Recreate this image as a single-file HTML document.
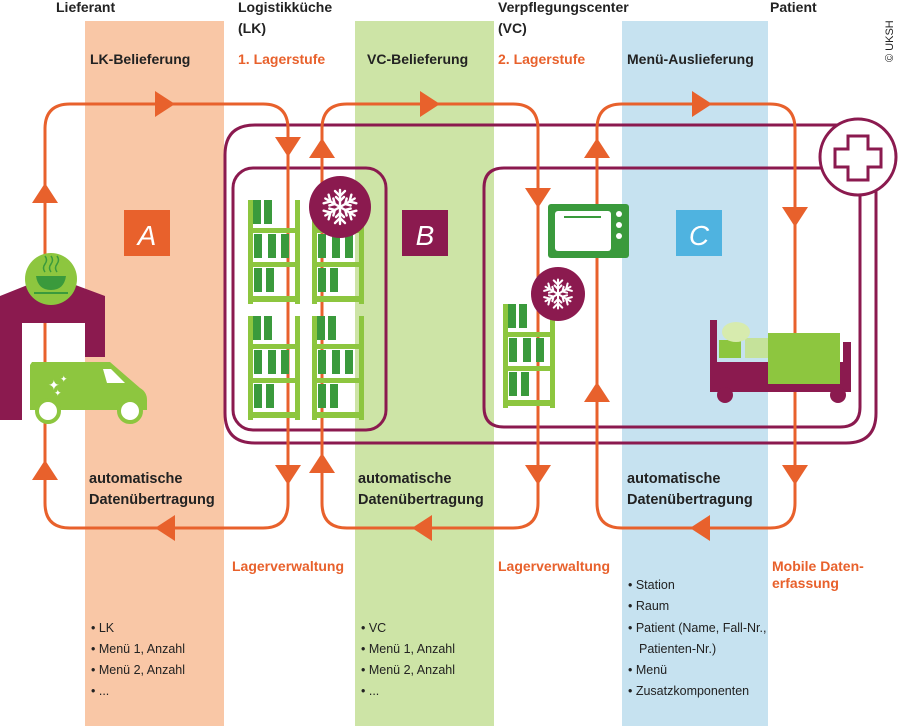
<!DOCTYPE html>
<html><head><meta charset="utf-8"><style>
html,body{margin:0;padding:0;background:#fff}
svg{display:block}
text{font-family:"Liberation Sans Narrow","Liberation Sans",sans-serif}
</style></head><body>
<svg width="900" height="726" viewBox="0 0 900 726" xmlns="http://www.w3.org/2000/svg">
<defs>
<g id="flake" stroke="#fff" stroke-width="2.4" fill="none" stroke-linecap="round">
<line x1="0" y1="-17" x2="0" y2="17"/><line x1="-14.7" y1="-8.5" x2="14.7" y2="8.5"/><line x1="-14.7" y1="8.5" x2="14.7" y2="-8.5"/>
<g id="br"><polyline points="-5,-16 0,-11 5,-16"/><polyline points="-4,-10 0,-6 4,-10"/></g>
<use href="#br" transform="rotate(60)"/><use href="#br" transform="rotate(120)"/><use href="#br" transform="rotate(180)"/><use href="#br" transform="rotate(240)"/><use href="#br" transform="rotate(300)"/>
</g>
<g id="shelf">
<rect x="0" y="0" width="5" height="104" fill="#8dc63f"/><rect x="47" y="0" width="5" height="104" fill="#8dc63f"/>
<rect x="0" y="28" width="52" height="5" fill="#8dc63f"/><rect x="0" y="62" width="52" height="5" fill="#8dc63f"/><rect x="0" y="96" width="52" height="6" fill="#8dc63f"/>
<rect x="5" y="0" width="8" height="24" fill="#3a9a3c"/><rect x="16" y="0" width="8" height="24" fill="#3a9a3c"/>
<rect x="6" y="34" width="8" height="24" fill="#3a9a3c"/><rect x="20" y="34" width="8" height="24" fill="#3a9a3c"/><rect x="33" y="34" width="8" height="24" fill="#3a9a3c"/>
<rect x="6" y="68" width="8" height="24" fill="#3a9a3c"/><rect x="18" y="68" width="8" height="24" fill="#3a9a3c"/>
</g>
<polygon id="ar" points="-13,-10 13,-10 0,10" fill="#e8612c"/>
</defs>
<!-- bands -->
<rect x="85" y="21" width="139" height="705" fill="#f9c7a6"/>
<rect x="355" y="21" width="139" height="705" fill="#cde4a6"/>
<rect x="622" y="21" width="146" height="705" fill="#c6e2f0"/>

<!-- purple loops -->
<g fill="none" stroke="#8b1a4f" stroke-width="3">
<path d="M858,125 H255 Q225,125 225,155 V413 Q225,443 255,443 H846 Q876,443 876,413 V180"/>
<rect x="233" y="168" width="153" height="262" rx="20"/>
<path d="M825,168 H504 Q484,168 484,188 V407 Q484,427 504,427 H840 Q860,427 860,407 V190"/>
<circle cx="858" cy="157" r="38" fill="#fff"/>
<path d="M848,136 h20 v13 h13 v18 h-13 v13 h-20 v-13 h-13 v-18 h13 z" stroke-width="3"/>
</g>

<!-- orange loops -->
<g fill="none" stroke="#e8612c" stroke-width="3">
<path d="M288,129 Q288,104 263,104 H70 Q45,104 45,129 V503 Q45,528 70,528 H263 Q288,528 288,503 Z"/>
<path d="M322,503 V129 Q322,104 347,104 H513 Q538,104 538,129 V503 Q538,528 513,528 H347 Q322,528 322,503"/>
<path d="M597,503 V129 Q597,104 622,104 H770 Q795,104 795,129 V503 Q795,528 770,528 H622 Q597,528 597,503"/>
</g>
<g>
<use href="#ar" transform="translate(165,104) rotate(-90)"/>
<use href="#ar" transform="translate(45,193) rotate(180)"/>
<use href="#ar" transform="translate(288,147)"/>
<use href="#ar" transform="translate(322,148) rotate(180)"/>
<use href="#ar" transform="translate(430,104) rotate(-90)"/>
<use href="#ar" transform="translate(538,198)"/>
<use href="#ar" transform="translate(597,148) rotate(180)"/>
<use href="#ar" transform="translate(702,104) rotate(-90)"/>
<use href="#ar" transform="translate(795,217)"/>
<use href="#ar" transform="translate(597,392) rotate(180)"/>
<use href="#ar" transform="translate(288,475)"/>
<use href="#ar" transform="translate(322,463) rotate(180)"/>
<use href="#ar" transform="translate(538,475)"/>
<use href="#ar" transform="translate(795,475)"/>
<use href="#ar" transform="translate(45,470) rotate(180)"/>
<use href="#ar" transform="translate(165,528) rotate(90)"/>
<use href="#ar" transform="translate(422,528) rotate(90)"/>
<use href="#ar" transform="translate(700,528) rotate(90)"/>
</g>

<!-- letter boxes -->
<rect x="124" y="210" width="46" height="46" fill="#e8612c"/>
<text x="147" y="245" font-size="28" fill="#fff" text-anchor="middle" font-style="italic">A</text>
<rect x="402" y="210" width="46" height="46" fill="#8b1a4f"/>
<text x="425" y="245" font-size="28" fill="#fff" text-anchor="middle" font-style="italic">B</text>
<rect x="676" y="210" width="46" height="46" fill="#4fb3e0"/>
<text x="699" y="245" font-size="28" fill="#fff" text-anchor="middle" font-style="italic">C</text>

<!-- supplier building -->
<path d="M0,296 L40,280 L62,280 L105,296 V357 H85 V323 H22 V420 H0 Z" fill="#8b1a4f"/>
<circle cx="51" cy="279" r="26" fill="#8dc63f"/>
<path d="M36,276 h30 q-2,14 -15,14 q-13,0 -15,-14z" fill="#3a9a3c"/>
<rect x="34" y="292" width="34" height="2" fill="#3a9a3c"/>
<g stroke="#3a9a3c" stroke-width="1.5" fill="none"><path d="M45,272 q-3,-4 0,-8 q3,-4 0,-8"/><path d="M51,272 q-3,-4 0,-8 q3,-4 0,-8"/><path d="M57,272 q-3,-4 0,-8 q3,-4 0,-8"/></g>
<!-- van -->
<path d="M32,362 H110 L140,388 Q147,392 147,400 V410 H30 V365 Z" fill="#8dc63f"/>
<path d="M103,369 h8 l14,14 h-18 z" fill="#fff"/>
<circle cx="48" cy="411" r="11" fill="#fff" stroke="#8dc63f" stroke-width="4"/>
<circle cx="130" cy="411" r="11" fill="#fff" stroke="#8dc63f" stroke-width="4"/>
<text x="48" y="390" font-size="14" fill="#fff">✦</text><text x="60" y="382" font-size="9" fill="#fff">✦</text><text x="54" y="396" font-size="9" fill="#fff">✦</text>

<!-- shelves B -->
<use href="#shelf" transform="translate(248,200)"/>
<use href="#shelf" transform="translate(312,200)"/>
<use href="#shelf" transform="translate(248,316)"/>
<use href="#shelf" transform="translate(312,316)"/>
<circle cx="340" cy="207" r="31" fill="#8b1a4f"/>
<use href="#flake" transform="translate(340,207)"/>

<!-- VC shelf -->
<use href="#shelf" transform="translate(503,304)"/>
<circle cx="558" cy="294" r="27" fill="#8b1a4f"/>
<use href="#flake" transform="translate(558,294) scale(0.85)"/>
<!-- oven -->
<rect x="548" y="204" width="81" height="54" rx="3" fill="#3a9a3c"/>
<rect x="555" y="211" width="56" height="40" rx="3" fill="#fff"/>
<rect x="564" y="216" width="37" height="2" fill="#3a9a3c"/>
<circle cx="619" cy="214" r="3" fill="#fff"/><circle cx="619" cy="225" r="3" fill="#fff"/><circle cx="619" cy="236" r="3" fill="#fff"/>

<!-- bed -->
<rect x="710" y="320" width="7" height="72" fill="#8b1a4f"/>
<rect x="710" y="362" width="141" height="30" fill="#8b1a4f"/>
<rect x="843" y="342" width="8" height="50" fill="#8b1a4f"/>
<circle cx="725" cy="395" r="8" fill="#8b1a4f"/><circle cx="838" cy="395" r="8" fill="#8b1a4f"/>
<rect x="719" y="340" width="22" height="18" fill="#8dc63f"/>
<rect x="745" y="338" width="26" height="20" fill="#c5e29a"/>
<ellipse cx="736" cy="332" rx="14" ry="10" fill="#d7ebae"/>
<rect x="768" y="333" width="72" height="51" fill="#8dc63f"/>

<!-- headings -->
<g font-weight="bold" font-size="14" fill="#222">
<text x="56" y="12">Lieferant</text>
<text x="238" y="12">Logistikküche</text><text x="238" y="33">(LK)</text>
<text x="498" y="12">Verpflegungscenter</text><text x="498" y="33">(VC)</text>
<text x="770" y="12">Patient</text>
<text x="90" y="64">LK-Belieferung</text>
<text x="367" y="64">VC-Belieferung</text>
<text x="627" y="64">Menü-Auslieferung</text>
</g>
<g font-weight="bold" font-size="14.5" fill="#222">
<text x="89" y="483">automatische</text><text x="89" y="504">Datenübertragung</text>
<text x="358" y="483">automatische</text><text x="358" y="504">Datenübertragung</text>
<text x="627" y="483">automatische</text><text x="627" y="504">Datenübertragung</text>
</g>
<g font-weight="bold" font-size="14" fill="#e8612c">
<text x="238" y="64">1. Lagerstufe</text>
<text x="498" y="64">2. Lagerstufe</text>
<text x="232" y="571">Lagerverwaltung</text>
<text x="498" y="571">Lagerverwaltung</text>
<text x="772" y="571">Mobile Daten-</text><text x="772" y="588">erfassung</text>
</g>
<text transform="translate(893,62) rotate(-90)" font-size="11" fill="#222" font-family="Liberation Sans,sans-serif">© UKSH</text>
<g font-size="12.5" fill="#222">
<text x="91" y="632">• LK</text><text x="91" y="653">• Menü 1, Anzahl</text><text x="91" y="674">• Menü 2, Anzahl</text><text x="91" y="695">• ...</text>
<text x="361" y="632">• VC</text><text x="361" y="653">• Menü 1, Anzahl</text><text x="361" y="674">• Menü 2, Anzahl</text><text x="361" y="695">• ...</text>
<text x="628" y="589">• Station</text><text x="628" y="610">• Raum</text><text x="628" y="632">• Patient (Name, Fall-Nr.,</text><text x="639" y="653">Patienten-Nr.)</text><text x="628" y="674">• Menü</text><text x="628" y="695">• Zusatzkomponenten</text>
</g>
</svg>
</body></html>
